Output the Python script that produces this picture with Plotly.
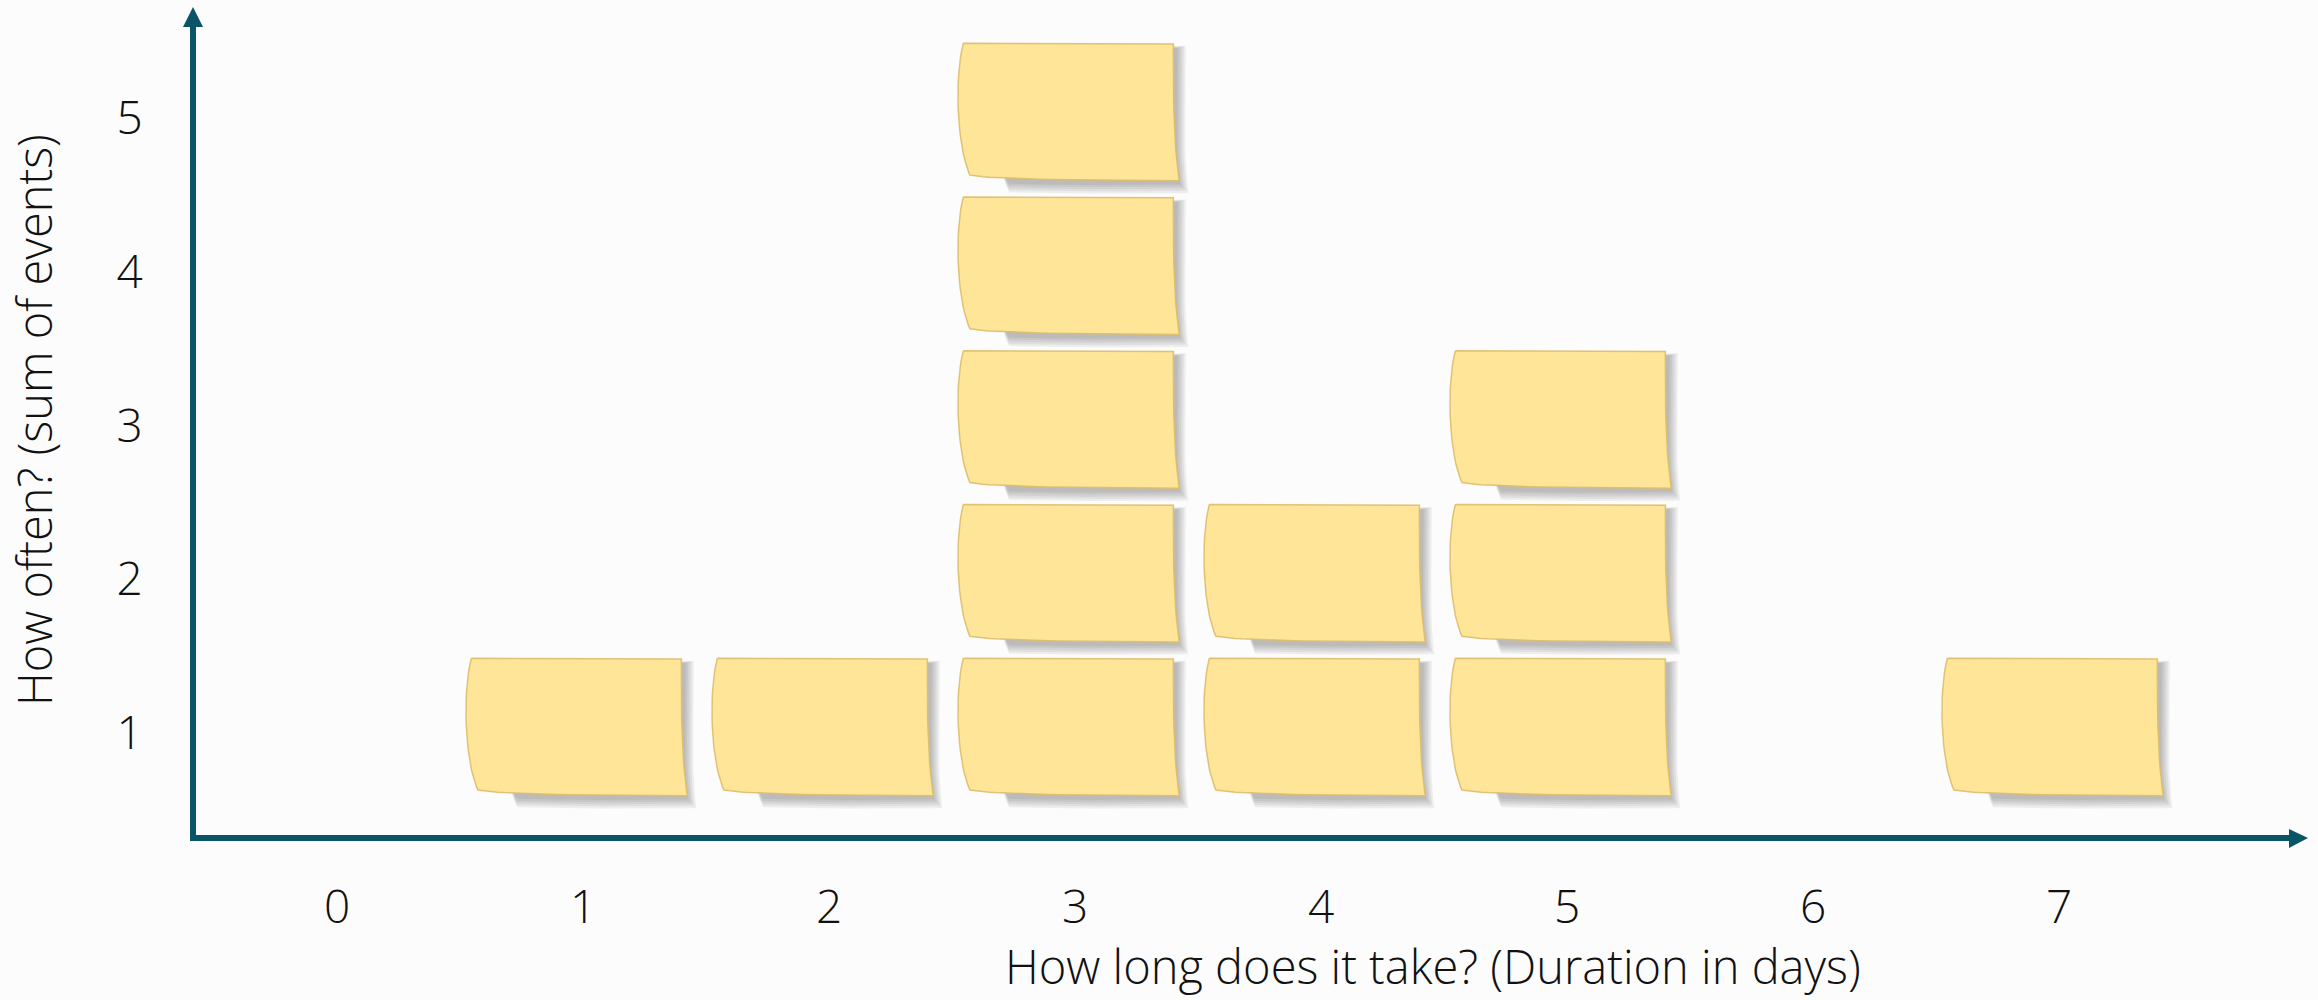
import numpy as np
import plotly.graph_objects as go

# ---------------- data ----------------
durations = [0, 1, 2, 3, 4, 5, 6, 7]          # days
counts = [0, 1, 1, 5, 2, 3, 0, 1]             # number of events (one sticky note each)
x_tick_labels = ["0", "1", "2", "3", "4", "5", "6", "7"]
y_ticks = [1, 2, 3, 4, 5]
x_title = "How long does it take? (Duration in days)"
y_title = "How often? (sum of events)"

# ---------------- style ----------------
W, H = 2318, 1000
ML, MR, MT, MB = 193, 10, 7, 162
PW, PH = W - ML - MR, H - MT - MB
AXIS = "#0A5467"
NOTE_FILL = "#FFE597"
NOTE_EDGE = "rgba(222,188,105,0.9)"
BG = "#FCFCFC"
FAMILY = "'Open Sans', 'Liberation Sans', sans-serif"
TICK_FONT = dict(family=FAMILY, size=46, color="#111111", weight=300)
TITLE_FONT = dict(family=FAMILY, size=47, color="#111111", weight=300)

# axis ranges so that ticks land where they do in the reference
X_RANGE = [-0.5854, 8.0122]
Y_RANGE = [0.3171, 5.7220]


def bez(p0, p1, p2, p3, n=24):
    t = np.linspace(0, 1, n)[:, None]
    p0, p1, p2, p3 = map(np.array, (p0, p1, p2, p3))
    return ((1 - t) ** 3) * p0 + 3 * ((1 - t) ** 2) * t * p1 + 3 * (1 - t) * (t ** 2) * p2 + (t ** 3) * p3


# sticky-note outline (offsets in data units around the cell centre)
TL, TR, BR, BL = (-0.454, 0.486), (0.400, 0.481), (0.424, -0.408), (-0.427, -0.371)
NOTE = np.vstack([
    bez(TL, (-0.15, 0.485), (0.15, 0.483), TR),
    bez(TR, (0.398, 0.15), (0.402, -0.20), BR),
    bez(BR, (0.10, -0.406), (-0.33, -0.402), BL),
    bez(BL, (-0.478, -0.20), (-0.492, 0.25), TL),
])

# shadow outline (only bottom and upper right peek out)
S_TL, S_TR, S_BR, S_BL = (-0.30, 0.30), (0.418, 0.455), (0.428, -0.432), (-0.27, -0.428)
SHADOW = np.vstack([
    bez(S_TL, (0.0, 0.40), (0.2, 0.45), S_TR),
    bez(S_TR, (0.420, 0.2), (0.405, -0.2), S_BR),
    bez(S_BR, (0.2, -0.438), (-0.1, -0.436), S_BL),
    bez(S_BL, (-0.32, -0.3), (-0.32, 0.1), S_TL),
])


def polys(shape, sx=1.0, sy=1.0, dx=0.0, dy=0.0):
    xs, ys = [], []
    for d, c in zip(durations, counts):
        for k in range(1, c + 1):
            xs += list(d + dx + shape[:, 0] * sx) + [shape[0, 0] * sx + d + dx, None]
            ys += list(k + dy + shape[:, 1] * sy) + [shape[0, 1] * sy + k + dy, None]
    return xs, ys


fig = go.Figure()

# soft shadow layers
for i in range(5):
    e = i * 0.9
    sx = 1 + 0.012 * e
    sy = 1 + 0.022 * e
    xs, ys = polys(SHADOW, sx, sy, dx=0.004 * e, dy=-0.006 * e)
    fig.add_trace(go.Scatter(x=xs, y=ys, mode="lines", fill="toself",
                             fillcolor="rgba(60,60,60,0.08)", line=dict(width=0),
                             hoverinfo="skip", showlegend=False))

# the sticky notes
xs, ys = polys(NOTE)
fig.add_trace(go.Scatter(x=xs, y=ys, mode="lines", fill="toself", fillcolor=NOTE_FILL,
                         line=dict(color=NOTE_EDGE, width=1.5), hoverinfo="skip",
                         showlegend=False))


def px_x(p):
    return (p - ML) / PW


def px_y(p):
    return (H - MB - p) / PH


shapes = [
    # y axis line
    dict(type="line", xref="paper", yref="paper", x0=0, x1=0, y0=px_y(841), y1=px_y(25),
         line=dict(color=AXIS, width=6)),
    # x axis line
    dict(type="line", xref="paper", yref="paper", x0=px_x(190), x1=px_x(2291), y0=0, y1=0,
         line=dict(color=AXIS, width=6)),
    # arrow heads
    dict(type="path", xref="paper", yref="paper",
         path=f"M {px_x(183)} {px_y(27)} L {px_x(193)} {px_y(7)} L {px_x(203)} {px_y(27)} Z",
         fillcolor=AXIS, line=dict(width=0)),
    dict(type="path", xref="paper", yref="paper",
         path=f"M {px_x(2289)} {px_y(829)} L {px_x(2308)} {px_y(838)} L {px_x(2289)} {px_y(848)} Z",
         fillcolor=AXIS, line=dict(width=0)),
]

annotations = [
    dict(text=x_title, xref="paper", yref="paper", x=px_x(1433), y=px_y(966),
         xanchor="center", yanchor="middle", showarrow=False, font=TITLE_FONT),
    dict(text=y_title, xref="paper", yref="paper", x=px_x(34), y=px_y(420),
         xanchor="center", yanchor="middle", showarrow=False, textangle=-90, font=TITLE_FONT),
]

fig.update_layout(
    width=W, height=H,
    margin=dict(l=ML, r=MR, t=MT, b=MB, pad=0),
    paper_bgcolor=BG, plot_bgcolor=BG,
    font=TICK_FONT,
    shapes=shapes, annotations=annotations,
    showlegend=False,
    xaxis=dict(range=X_RANGE, tickvals=durations, ticktext=x_tick_labels,
               showgrid=False, zeroline=False, showline=False,
               ticks="outside", ticklen=29, tickcolor="rgba(0,0,0,0)",
               tickfont=TICK_FONT, fixedrange=True),
    yaxis=dict(range=Y_RANGE, tickvals=y_ticks, ticktext=[str(v) for v in y_ticks],
               showgrid=False, zeroline=False, showline=False,
               ticks="outside", ticklen=40, tickcolor="rgba(0,0,0,0)",
               tickfont=TICK_FONT, fixedrange=True),
)

fig.write_html("out.html", config={"displayModeBar": False},
               post_script="document.body.style.margin='0';document.body.style.background='%s';" % BG)
